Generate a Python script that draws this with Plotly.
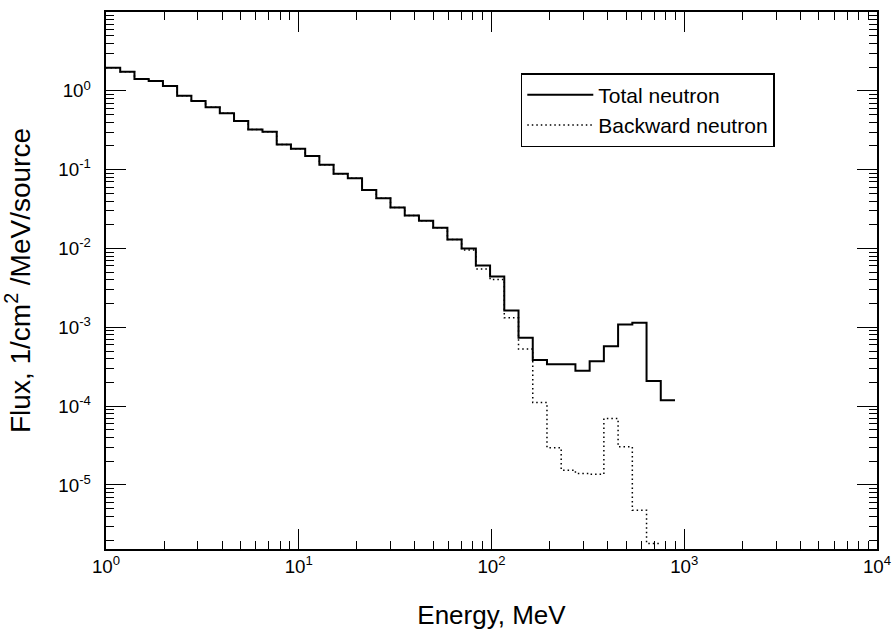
import plotly.graph_objects as go

# Bin edges (MeV) (log-uniform bins, ~13.5 per decade)
energy_edges = [1.000, 1.185, 1.405, 1.665, 1.974, 2.339, 2.772, 3.286, 3.894, 4.616,
                5.470, 6.484, 7.685, 9.108, 10.80, 12.79, 15.16, 17.97, 21.30, 25.25,
                29.92, 35.47, 42.04, 49.83, 59.05, 69.98, 82.95, 98.31, 116.5, 138.1,
                163.7, 194.0, 229.9, 272.5, 323.0, 382.8, 453.7, 537.8, 637.4, 755.4,
                895.4]

# Total neutron flux per bin (1/cm^2/MeV/source)
total_flux = [1.96, 1.75, 1.41, 1.33, 1.15, 0.867, 0.743, 0.617, 0.518, 0.414,
              0.324, 0.303, 0.209, 0.184, 0.149, 0.1155, 0.0888, 0.0776, 0.0551, 0.0433,
              0.0332, 0.0263, 0.0225, 0.0183, 0.0130, 0.0100, 0.0061, 0.00440, 0.00163, 7.4e-4,
              3.84e-4, 3.41e-4, 3.41e-4, 2.81e-4, 3.72e-4, 5.77e-4, 1.09e-3, 1.14e-3, 2.09e-4, 1.19e-4]

# Backward neutron flux per bin
backward_flux = [1.96, 1.75, 1.41, 1.33, 1.15, 0.867, 0.743, 0.617, 0.518, 0.414,
                 0.324, 0.303, 0.209, 0.184, 0.149, 0.1155, 0.0888, 0.0776, 0.0551, 0.0433,
                 0.0332, 0.0263, 0.0225, 0.0183, 0.0130, 0.0096, 0.0055, 0.00405, 0.00132, 5.3e-4,
                 1.11e-4, 2.96e-5, 1.54e-5, 1.40e-5, 1.37e-5, 6.98e-5, 3.05e-5, 4.79e-6, 1.81e-6]

# Decade tick labels
x_tick_exps = [0, 1, 2, 3, 4]
x_tick_text = ["10<sup>0</sup>", "10<sup>1</sup>", "10<sup>2</sup>", "10<sup>3</sup>", "10<sup>4</sup>"]
y_tick_exps = [-5, -4, -3, -2, -1, 0, 1]
y_tick_text = ["10<sup>-5</sup>", "10<sup>-4</sup>", "10<sup>-3</sup>", "10<sup>-2</sup>",
               "10<sup>-1</sup>", "10<sup>0</sup>", "10<sup>1</sup>"]

FONT = "Liberation Sans, Arial, sans-serif"
X_RANGE = [0, 4]
Y_RANGE = [-5.812, 1]


def plotly_power_label(p):
    # text plotly itself produces for a decade tick with exponentformat="power"
    if p == 0:
        return "1"
    if p == 1:
        return "10"
    return "10<sup>" + ("" if p > 1 else "\u2212") + str(abs(p)) + "</sup>"


x_alias = {plotly_power_label(p): t for p, t in zip(x_tick_exps, x_tick_text)}
# trailing no-break spaces keep the y labels a little away from the frame
y_alias = {plotly_power_label(p): t + "\u00a0\u00a0" for p, t in zip(y_tick_exps, y_tick_text)}

fig = go.Figure()
fig.add_trace(go.Scatter(
    x=energy_edges, y=total_flux + [total_flux[-1]],
    mode="lines", line=dict(color="black", width=2, shape="hv"),
    name="Total neutron"))
fig.add_trace(go.Scatter(
    x=energy_edges[:len(backward_flux) + 1], y=backward_flux + [backward_flux[-1]],
    mode="lines", line=dict(color="black", width=1.5, shape="hv", dash="1.5px,3px"),
    name="Backward neutron"))

axis_common = dict(
    showgrid=False, zeroline=False, automargin=True,
    showline=True, linecolor="black", linewidth=1.5, mirror="ticks",
    tickmode="linear", tick0=0, dtick=1, exponentformat="power",
    ticks="inside", ticklen=20, tickwidth=1.3, tickcolor="black",
    tickfont=dict(family=FONT, size=15, color="black"),
    minor=dict(ticks="inside", ticklen=8, tickwidth=1.3, tickcolor="black", showgrid=False),
)

fig.update_layout(
    xaxis=dict(type="log", range=X_RANGE, labelalias=x_alias,
               title=dict(text="Energy, MeV", font=dict(family=FONT, size=26, color="black"),
                          standoff=30),
               **axis_common),
    yaxis=dict(type="log", range=Y_RANGE, labelalias=y_alias,
               title=dict(text="Flux, 1/cm<sup>2</sup> /MeV/source",
                          font=dict(family=FONT, size=28, color="black"), standoff=20),
               **axis_common),
    width=892, height=633,
    margin=dict(l=106, r=15, t=12, b=84, autoexpand=False),
    paper_bgcolor="white", plot_bgcolor="white",
    showlegend=True,
    legend=dict(x=0.538, y=0.888, xanchor="left", yanchor="top",
                bgcolor="white", bordercolor="black", borderwidth=1.5,
                font=dict(family=FONT, size=21, color="black"),
                itemwidth=66, tracegroupgap=0),
)

# re-run plotly's own layout pass once after the first draw (same as an auto-margin redraw)
post_js = (
    "var gd = document.getElementById('{plot_id}');"
    "Plotly.relayout(gd, {'margin.t': 13}).then(function(){"
    "return Plotly.relayout(gd, {'margin.t': 12});});"
)

fig.write_html("out.html", post_script=post_js)
